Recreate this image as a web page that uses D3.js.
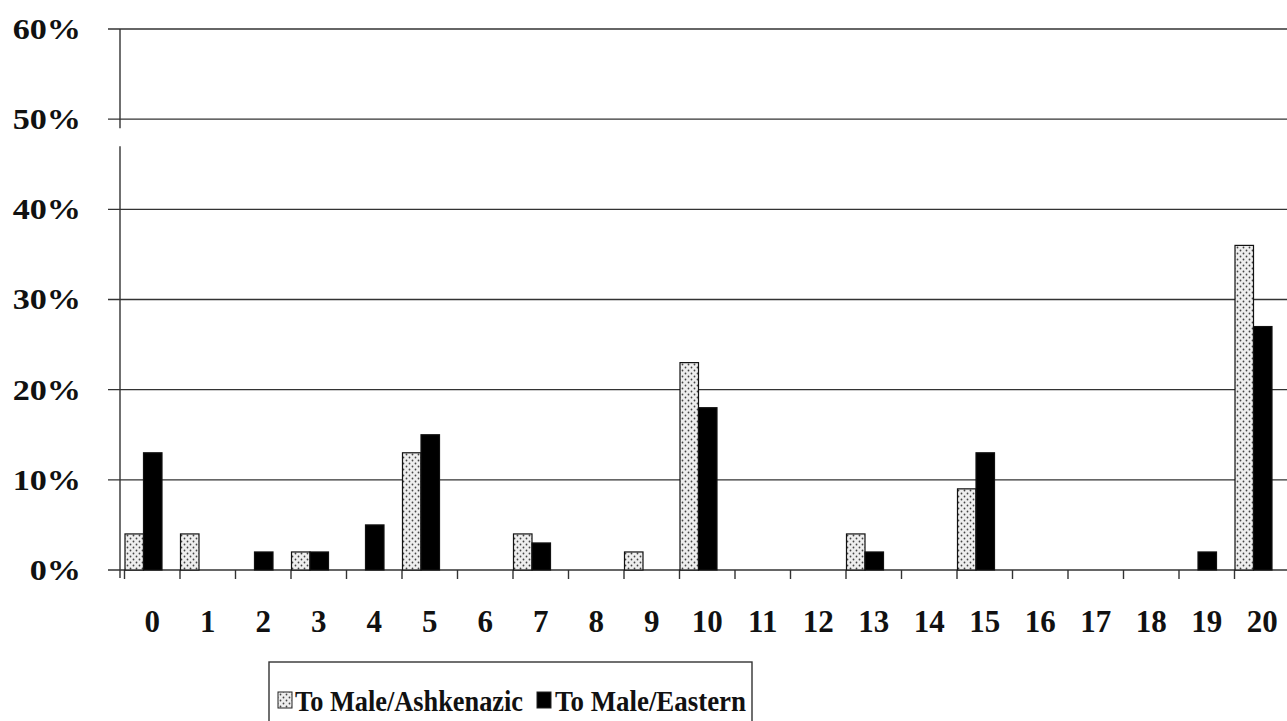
<!DOCTYPE html>
<html>
<head>
<meta charset="utf-8">
<script src="https://cdn.jsdelivr.net/npm/d3@7"></script>
<style>
  body { margin: 0; background: #fff; }
  svg { display: block; }
  text { font-family: "Liberation Serif", "Times New Roman", serif; font-weight: bold; fill: #111; }
</style>
</head>
<body>
<div id="chart"></div>
<script>
// categorias e valores (%)
const categories = d3.range(0, 21).map(String);
const ashkenazic = [4, 4, 0, 2, 0, 13, 0, 4, 0, 2, 23, 0, 0, 4, 0, 9, 0, 0, 0, 0, 36];
const eastern    = [13, 0, 2, 2, 5, 15, 0, 3, 0, 0, 18, 0, 0, 2, 0, 13, 0, 0, 0, 2, 27];
const yTicks = [0, 10, 20, 30, 40, 50, 60];
const seriesNames = ["To Male/Ashkenazic", "To Male/Eastern"];

const width = 1287, height = 721;
const margin = { left: 124.5, right: -3, top: 29, bottom: 151 };

const svg = d3.select("#chart").append("svg")
  .attr("width", width)
  .attr("height", height);

// padrão pontilhado para a primeira série
const defs = svg.append("defs");
const pat = defs.append("pattern")
  .attr("id", "dots")
  .attr("patternUnits", "userSpaceOnUse")
  .attr("width", 6).attr("height", 6);
pat.append("rect").attr("width", 6).attr("height", 6).attr("fill", "#eeeeee");
pat.append("circle").attr("cx", 1.5).attr("cy", 1.5).attr("r", 0.9).attr("fill", "#444");
pat.append("circle").attr("cx", 4.5).attr("cy", 4.5).attr("r", 0.9).attr("fill", "#444");

const x = d3.scaleBand()
  .domain(categories)
  .range([margin.left, width - margin.right]);

const y = d3.scaleLinear()
  .domain([0, 60])
  .range([height - margin.bottom, margin.top]);

// linhas de grade
svg.append("g")
  .selectAll("line")
  .data(yTicks)
  .enter().append("line")
  .attr("x1", 108)
  .attr("x2", width)
  .attr("y1", d => y(d))
  .attr("y2", d => y(d))
  .attr("stroke", "#333")
  .attr("stroke-width", 1.4);

// eixo y (com a falha do original entre 50% e 45%)
[[y(60), y(50) + 9], [y(50) + 27, y(0) + 8]].forEach(([a, b]) => {
  svg.append("line")
    .attr("x1", 120).attr("x2", 120)
    .attr("y1", a).attr("y2", b)
    .attr("stroke", "#333")
    .attr("stroke-width", 1.4);
});

svg.append("g")
  .selectAll("text")
  .data(yTicks)
  .enter().append("text")
  .attr("transform", d => `translate(81,${y(d)}) scale(1.14,1)`)
  .attr("dy", "0.33em")
  .attr("text-anchor", "end")
  .style("font-size", "30px")
  .text(d => d + "%");

// marcas do eixo x (limites das categorias)
svg.append("g")
  .selectAll("line")
  .data(categories)
  .enter().append("line")
  .attr("x1", d => x(d))
  .attr("x2", d => x(d))
  .attr("y1", y(0))
  .attr("y2", y(0) + 9)
  .attr("stroke", "#333")
  .attr("stroke-width", 1.4);

svg.append("g")
  .selectAll("text")
  .data(categories)
  .enter().append("text")
  .attr("x", d => x(d) + x.bandwidth() / 2)
  .attr("y", 632)
  .attr("text-anchor", "middle")
  .style("font-size", "31px")
  .text(d => d);

// barras
const barW = x.bandwidth() / 3;
const series = [
  { name: seriesNames[0], values: ashkenazic, fill: "url(#dots)", offset: 0.5 },
  { name: seriesNames[1], values: eastern, fill: "#000", offset: 0.5 + barW }
];

series.forEach(s => {
  svg.append("g")
    .selectAll("rect")
    .data(categories.map((c, i) => ({ c, v: s.values[i] })).filter(d => d.v > 0))
    .enter().append("rect")
    .attr("x", d => x(d.c) + s.offset)
    .attr("width", barW)
    .attr("y", d => y(d.v))
    .attr("height", d => y(0) - y(d.v))
    .attr("fill", s.fill)
    .attr("stroke", "#111")
    .attr("stroke-width", 1.2);
});

// legenda
const legend = svg.append("g");
legend.append("rect")
  .attr("x", 269).attr("y", 662)
  .attr("width", 483).attr("height", 80)
  .attr("fill", "#fff")
  .attr("stroke", "#333")
  .attr("stroke-width", 1.4);

const legendItems = [
  { name: seriesNames[0], fill: "url(#dots)", sx: 278, tx: 295, len: 228 },
  { name: seriesNames[1], fill: "#000", sx: 537, tx: 555, len: 191 }
];
legendItems.forEach(it => {
  legend.append("rect")
    .attr("x", it.sx).attr("y", 692)
    .attr("width", 14).attr("height", 16)
    .attr("fill", it.fill)
    .attr("stroke", "#222")
    .attr("stroke-width", 1);
  legend.append("text")
    .attr("x", it.tx)
    .attr("y", 711)
    .attr("textLength", it.len)
    .attr("lengthAdjust", "spacingAndGlyphs")
    .style("font-size", "30px")
    .text(it.name);
});
</script>
</body>
</html>
